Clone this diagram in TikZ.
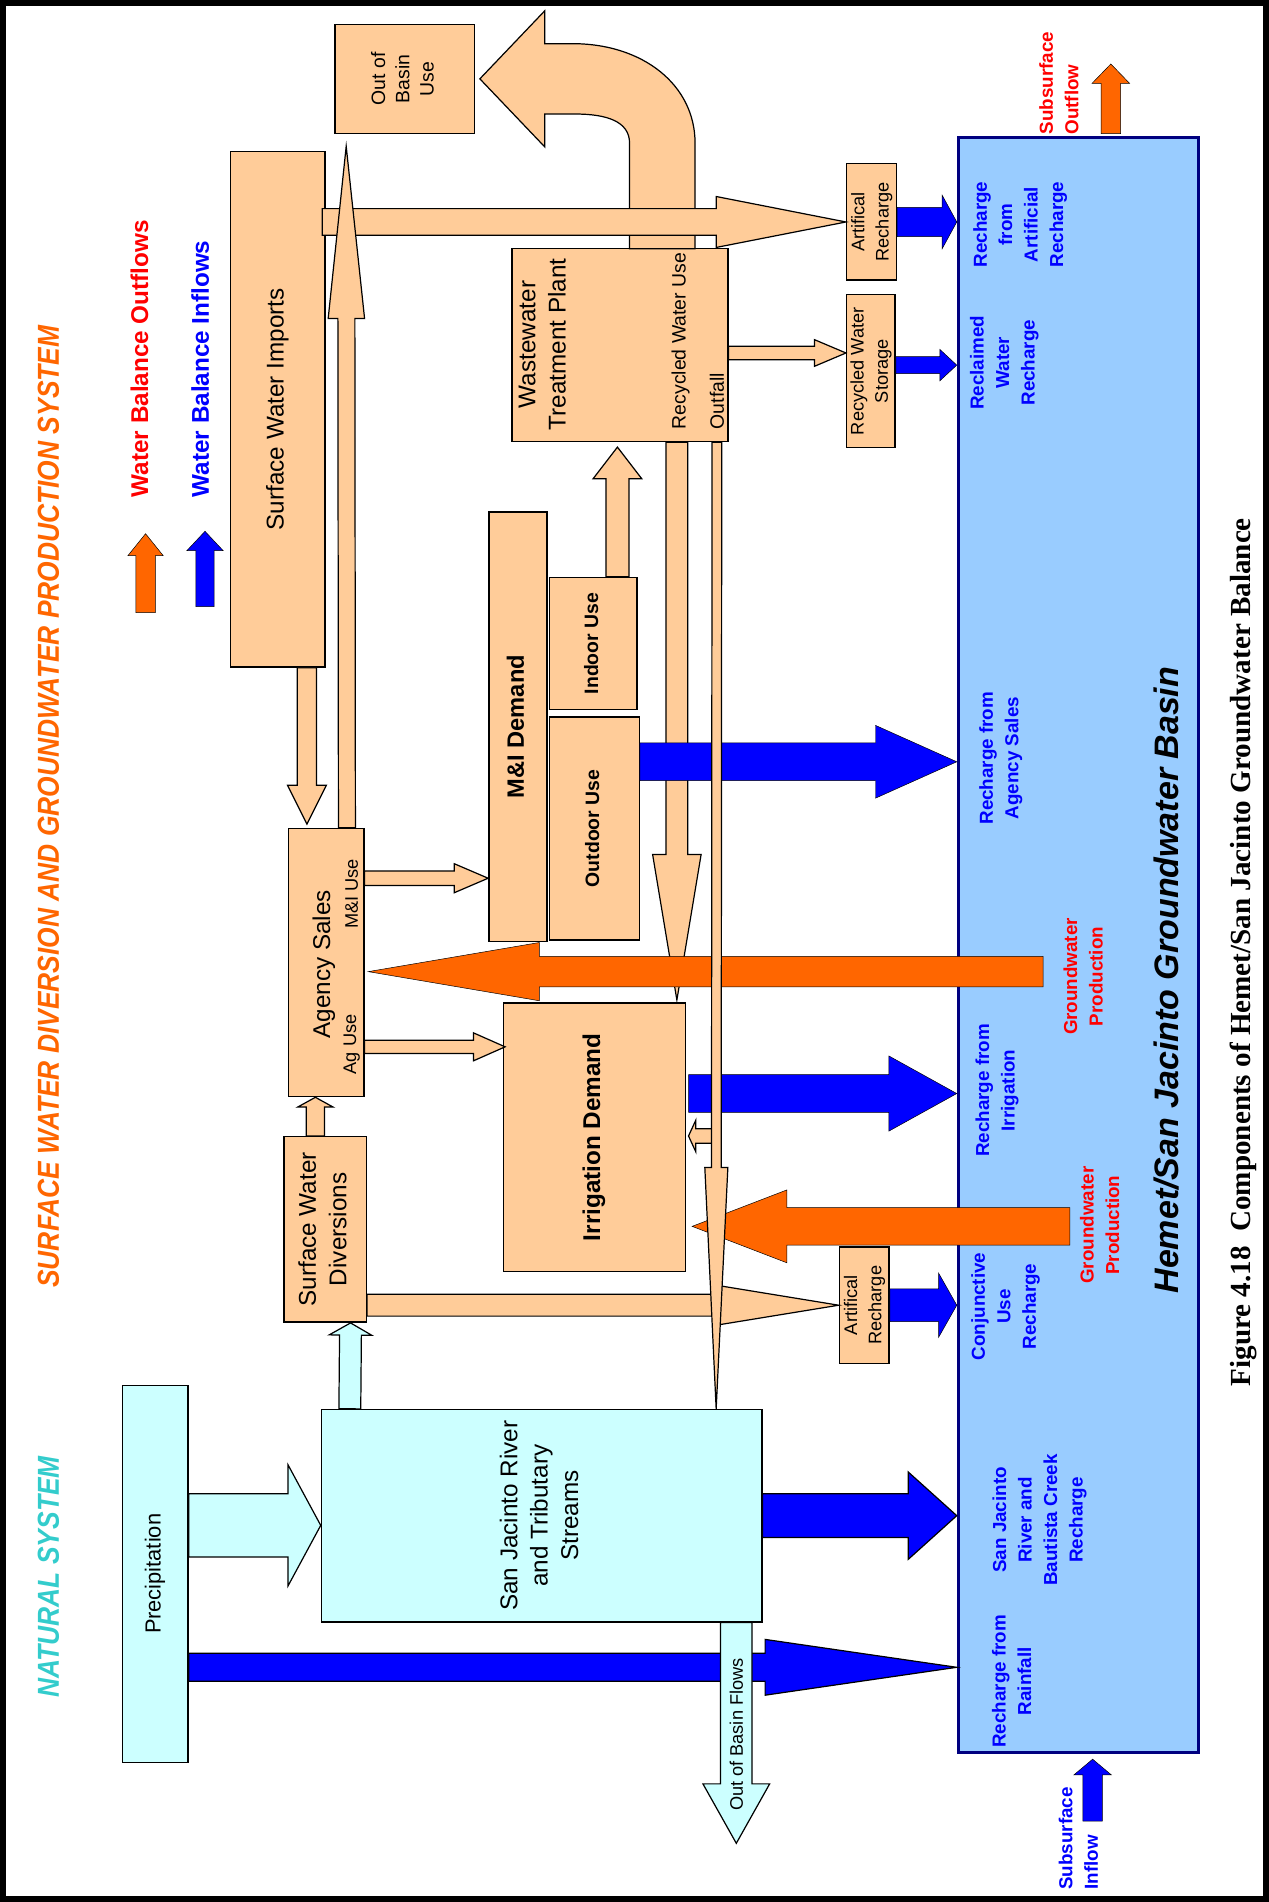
\documentclass[tikz,border=0pt]{standalone}
\usepackage{graphicx}
\usepackage{fontspec}
\setmainfont{Liberation Sans}
\newfontfamily\capfont{Liberation Serif}
\usetikzlibrary{calc}

\definecolor{peach}{HTML}{FFCC99}
\definecolor{skyfill}{HTML}{CCFFFF}
\definecolor{basinfill}{HTML}{99CCFF}
\definecolor{navy}{HTML}{000080}
\definecolor{inblue}{HTML}{0000FF}
\definecolor{outred}{HTML}{FF0000}
\definecolor{outorange}{HTML}{FF6600}
\definecolor{natcyan}{HTML}{33CCCC}

\newcommand{\fsz}[2]{\fontsize{#1}{#2}\selectfont}
\newcommand{\vtxt}[1]{\rotatebox{90}{\begin{tabular}{@{}c@{}}#1\end{tabular}}}
% block arrow: style, from, to, half shaft, half head, head length
\newcommand{\flowarrow}[6]{%
  \coordinate (fa) at #2;
  \coordinate (fb) at #3;
  \coordinate (fh) at ($(fb)!#6!(fa)$);
  \draw[#1] ($(fa)!#4!90:(fb)$) -- ($(fh)!#4!90:(fb)$) -- ($(fh)!#5!90:(fb)$) -- (fb)
    -- ($(fh)!#5!-90:(fb)$) -- ($(fh)!#4!-90:(fb)$) -- ($(fa)!#4!-90:(fb)$) -- cycle;
}

\begin{document}
\begin{tikzpicture}[
x=1pt, y=-1pt,
every node/.style={inner sep=0pt},
peachbox/.style={draw, line width=1.2pt, fill=peach},
cyanbox/.style={draw, line width=1.2pt, fill=skyfill},
peachflow/.style={draw, line width=1pt, fill=peach},
cyanflow/.style={draw, line width=1pt, fill=skyfill},
blueflow/.style={fill=inblue},
blueline/.style={draw, line width=1pt, fill=inblue},
orangeflow/.style={fill=outorange},
bluelabel/.style={rotate=90, align=center, text=inblue, font=\bfseries\fsz{15.5}{21}},
redlabel/.style={rotate=90, align=center, text=outred, font=\bfseries\fsz{15.5}{21}}
]

\useasboundingbox (0,0) rectangle (1046,1568);
\draw[line width=5pt] (2.5,2.5) rectangle (1043.5,1565.5);

% titles and legend
\node[rotate=90, text=outorange, font=\bfseries\itshape\fsz{25}{28}] (titleSW) at (40,665) {\scalebox{0.87}[1]{SURFACE WATER DIVERSION AND GROUNDWATER PRODUCTION SYSTEM}};
\node[rotate=90, text=natcyan, font=\bfseries\itshape\fsz{25}{28}] (titleNat) at (40,1300) {\scalebox{0.87}[1]{NATURAL SYSTEM}};
\node[rotate=90, anchor=west, text=outred, font=\bfseries\fsz{20}{24}] (legOutText) at (115,410) {Water Balance Outflows};
\node[rotate=90, anchor=west, text=inblue, font=\bfseries\fsz{20}{24}] (legInText) at (165,410) {Water Balance Inflows};

% boxes
\node[peachbox, minimum width=115, minimum height=90, font=\fsz{16}{20}] (oob) at (333.5,65) {\vtxt{Out of\\Basin\\Use}};
\node[peachbox, minimum width=78, minimum height=425, font=\fsz{20}{24}] (imports) at (229,337.5) {\vtxt{Surface Water Imports}};
\node[peachbox, minimum width=62, minimum height=221] (agency) at (269,793.5) {};
\node[rotate=90, font=\fsz{20}{24}] (agencyText) at (267,795) {Agency Sales};
\node[rotate=90, font=\fsz{15}{18}] (miuse) at (290,737) {M\&I Use};
\node[rotate=90, font=\fsz{15}{18}] (aguse) at (290,861) {Ag Use};
\node[peachbox, minimum width=68, minimum height=153, font=\fsz{20}{25}] (swd) at (268,1013.5) {\vtxt{Surface Water\\Diversions}};
\node[peachbox, minimum width=48, minimum height=354, font=\bfseries\fsz{19.5}{24}] (mi) at (427,599) {\vtxt{M\&I Demand}};
\node[peachbox, minimum width=72, minimum height=109, font=\bfseries\fsz{16}{20}] (indoor) at (489,530.5) {\vtxt{Indoor Use}};
\node[peachbox, minimum width=74, minimum height=184, font=\bfseries\fsz{16}{20}] (outdoor) at (490,683) {\vtxt{Outdoor Use}};
\node[peachbox, minimum width=178, minimum height=159] (wwtp) at (511,284.5) {};
\node[rotate=90, align=center, font=\fsz{20}{25}] (wwtpText) at (447,284) {Wastewater\\Treatment Plant};
\node[rotate=90, anchor=west, font=\fsz{16}{20}] (recycled) at (561,354) {Recycled Water Use};
\node[rotate=90, anchor=west, font=\fsz{16}{20}] (outfall) at (591,354) {Outfall};
\node[peachbox, minimum width=150, minimum height=221, font=\bfseries\fsz{20}{24}] (irr) at (490,937.5) {\vtxt{Irrigation Demand}};
\node[peachbox, minimum width=41, minimum height=96, font=\fsz{15}{20}] (arTop) at (718.5,183) {\vtxt{Artifical\\Recharge}};
\node[peachbox, minimum width=40, minimum height=126, font=\fsz{15}{20}] (rws) at (718,306) {\vtxt{Recycled Water\\Storage}};
\node[peachbox, minimum width=41, minimum height=96, font=\fsz{15}{20}] (arBot) at (712.5,1076) {\vtxt{Artifical\\Recharge}};
\node[cyanbox, minimum width=54, minimum height=311, font=\fsz{18}{22}] (precip) at (128,1297.5) {\vtxt{Precipitation}};
\node[cyanbox, minimum width=363, minimum height=175, font=\fsz{20}{25}] (river) at (446.5,1249.5) {\vtxt{San Jacinto River\\and Tributary\\Streams}};
\node[draw=navy, line width=2.5pt, fill=basinfill, minimum width=198, minimum height=1332] (basin) at (889,779) {};

% basin labels
\node[bluelabel] (lblArt) at (841,185) {Recharge\\from\\Artificial\\Recharge};
\node[bluelabel] (lblReclaim) at (828,299) {Reclaimed\\Water\\Recharge};
\node[bluelabel] (lblAgency) at (825,625) {Recharge from\\Agency Sales};
\node[bluelabel] (lblIrr) at (822,899) {Recharge from\\Irrigation};
\node[bluelabel] (lblConj) at (829,1077) {Conjunctive\\Use\\Recharge};
\node[bluelabel] (lblRiver) at (857,1253) {San Jacinto\\River and\\Bautista Creek\\Recharge};
\node[bluelabel] (lblRain) at (834,1386) {Recharge from\\Rainfall};
\node[redlabel] (gwp1) at (893,805) {Groundwater\\Production};
\node[redlabel] (gwp2) at (906.5,1010) {Groundwater\\Production};
\node[rotate=90, align=left, anchor=west, text=outred, font=\bfseries\fsz{15.5}{21}] (subOut) at (873,111) {Subsurface\\Outflow};
\node[rotate=90, align=left, anchor=west, text=inblue, font=\bfseries\fsz{15.5}{21}] (subIn) at (889,1558) {Subsurface\\Inflow};
\node[rotate=90, font=\bfseries\itshape\fsz{28}{32}] (basinTitle) at (962,808) {Hemet/San Jacinto Groundwater Basin};
\node[rotate=90, font=\capfont\bfseries\fsz{24}{28}] (caption) at (1025,785) {Figure 4.18~~Components of Hemet/San Jacinto Groundwater Balance};

% peach flows
\draw[peachflow] (519,205) -- (519,118) .. controls (519,100) and (500,94) .. (474,94) -- (449,94) -- (449,121)
  -- ($(oob.east)+(4,0)$) -- (449,9) -- (449,36) -- (472,36) .. controls (530,36) and (573,70) .. (573,118) -- (573,205) -- cycle;
\flowarrow{peachflow}{($(imports.east |- arTop.west)+(-3,0)$)}{(arTop.west)}{11pt}{21pt}{107pt}
\flowarrow{peachflow}{($(agency.north)+(17,0)$)}{($(oob.south west)+(10,10)$)}{7pt}{15pt}{142pt}
\flowarrow{peachflow}{($(imports.south)+(24,0)$)}{($(agency.north)+(-16,-3)$)}{8pt}{16pt}{32pt}
\flowarrow{peachflow}{($(agency.east |- miuse)+(0,-13)$)}{($(mi.west |- miuse)+(0,-13)$)}{6pt}{12pt}{28pt}
\flowarrow{peachflow}{($(agency.east |- aguse)+(0,2)$)}{($(irr.west |- aguse)+(2,2)$)}{5.5pt}{11.5pt}{26pt}
\flowarrow{peachflow}{($(swd.north)+(-8,0)$)}{($(agency.south)+(-9,0)$)}{7.5pt}{14.5pt}{8pt}
\flowarrow{cyanflow}{($(river.north west)+(24,0)$)}{($(swd.south)+(21,0)$)}{9pt}{17.5pt}{10pt}
\flowarrow{peachflow}{(swd.east |- arBot.west)}{(arBot.west)}{9pt}{16.5pt}{101pt}
\flowarrow{peachflow}{($(wwtp.east |- rws.west)+(0,-15)$)}{($(rws.west)+(0,-15)$)}{5.5pt}{11pt}{26pt}
\flowarrow{peachflow}{($(indoor.north)+(20,0)$)}{($(wwtp.south)+(-2,4)$)}{9.5pt}{20pt}{26pt}
\flowarrow{peachflow}{($(wwtp.south)+(47,0)$)}{($(irr.north)+(68,-2)$)}{9pt}{20pt}{120pt}

% recharge flows
\coordinate (o1) at ($(outdoor.east)+(0,-55)$);
\flowarrow{blueflow}{(o1)}{(basin.west |- o1)}{15.5pt}{30pt}{67pt}
\coordinate (i1) at ($(irr.east)+(2,-36)$);
\flowarrow{blueflow}{(i1)}{(basin.west |- i1)}{15.5pt}{31pt}{56pt}
\flowarrow{blueflow}{(arBot.east)}{(basin.west |- arBot.east)}{13.5pt}{26.5pt}{15pt}
\flowarrow{blueflow}{(arTop.east)}{(basin.west |- arTop.east)}{12pt}{22pt}{12pt}
\flowarrow{blueflow}{($(rws.east)+(0,-5)$)}{($(basin.west |- rws.east)+(0,-5)$)}{7pt}{13pt}{14pt}

% groundwater production
\coordinate (gw1) at (860,801);
\flowarrow{orangeflow}{(gw1)}{($(agency.east |- gw1)+(3,0)$)}{12.5pt}{24pt}{141pt}
\coordinate (gw2) at (882,1011);
\flowarrow{orangeflow}{(gw2)}{($(irr.east |- gw2)+(5,0)$)}{15.5pt}{30pt}{78pt}

% outfall
\flowarrow{peachflow}{($(irr.east)+(23,-1)$)}{($(irr.east)+(2,-1)$)}{6pt}{13pt}{6pt}
\flowarrow{peachflow}{($(wwtp.south)+(80,0)$)}{($(river.north west)+(326,0)$)}{4pt}{9.5pt}{199pt}

% natural system
\coordinate (p1) at ($(precip.east)+(0,-40)$);
\flowarrow{cyanflow}{(p1)}{(river.west |- p1)}{26pt}{50pt}{27pt}
\flowarrow{blueline}{(river.east)}{(basin.west |- river.east)}{18pt}{36pt}{40pt}
\coordinate (p2) at ($(precip.east)+(0,77)$);
\flowarrow{blueline}{(p2)}{(basin.west |- p2)}{11.5pt}{23pt}{158pt}
\coordinate (obf) at ($(river.south)+(160.5,182)$);
\flowarrow{cyanflow}{($(river.south)+(160.5,0)$)}{(obf)}{13pt}{27.5pt}{49pt}
\node[rotate=90, font=\fsz{15}{18}] (obfText) at (607,1430) {Out of Basin Flows};

% subsurface
\flowarrow{orangeflow}{($(basin.north west)+(127,-1.5)$)}{($(basin.north west)+(127,-59)$)}{8pt}{15.5pt}{16pt}
\flowarrow{blueflow}{($(basin.south west)+(112,55)$)}{($(basin.south west)+(112,4)$)}{8pt}{15.5pt}{13pt}

% legend arrows
\coordinate (legO) at (120,505);
\flowarrow{orangeflow}{(legO)}{($(legO)+(0,-65)$)}{8pt}{14.5pt}{18pt}
\coordinate (legI) at (169,500);
\flowarrow{blueflow}{(legI)}{($(legI)+(0,-62)$)}{7.5pt}{15pt}{16pt}

\end{tikzpicture}
\end{document}
